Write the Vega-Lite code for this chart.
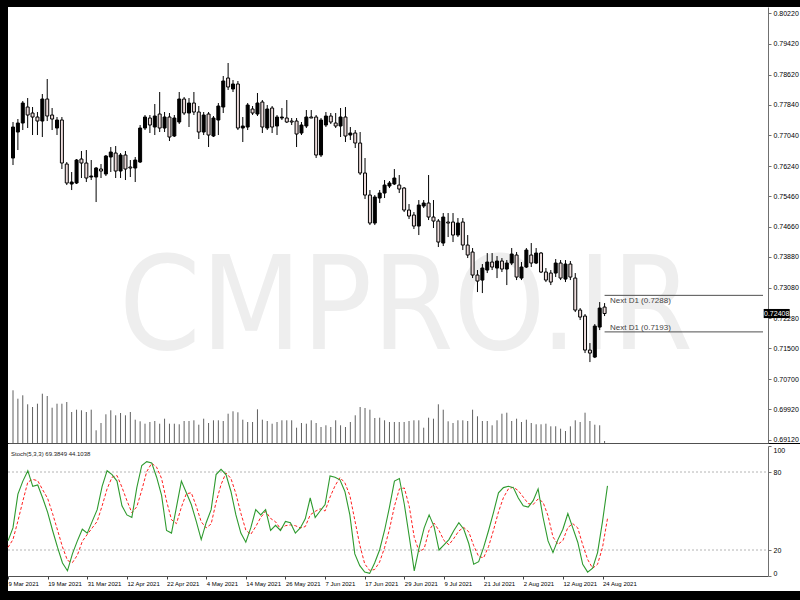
{
 "$schema": "https://vega.github.io/schema/vega-lite/v6.json",
 "background": "black",
 "padding": {"left": 5, "top": 7, "right": 3, "bottom": 10},
 "spacing": 0,
 "config": {"view": {"fill": "white", "stroke": null}, "font": "Liberation Sans", "axis": {"labelFont": "Liberation Sans", "labelOverlap": false, "grid": false}},
 "datasets": {
  "bars": [
{"i":0,"o":0.7645,"h":0.77386,"l":0.76268,"c":0.77256,"v":52700,"k":27,"d":22},
{"i":1,"o":0.77126,"h":0.77464,"l":0.76658,"c":0.7736,"v":44300,"k":37,"d":28},
{"i":2,"o":0.7736,"h":0.77932,"l":0.77178,"c":0.7788,"v":47700,"k":63,"d":42.3},
{"i":3,"o":0.77776,"h":0.7801,"l":0.7723,"c":0.77568,"v":38700,"k":73,"d":57.7},
{"i":4,"o":0.7762,"h":0.77776,"l":0.77048,"c":0.77516,"v":36000,"k":81,"d":72.3},
{"i":5,"o":0.77516,"h":0.77646,"l":0.77048,"c":0.77412,"v":39300,"k":69,"d":74.3},
{"i":6,"o":0.77412,"h":0.78114,"l":0.76996,"c":0.77984,"v":49300,"k":70,"d":73.3},
{"i":7,"o":0.77984,"h":0.78504,"l":0.77412,"c":0.77542,"v":47000,"k":60,"d":66.3},
{"i":8,"o":0.77568,"h":0.7775,"l":0.77178,"c":0.77464,"v":35300,"k":49,"d":59.7},
{"i":9,"o":0.7723,"h":0.77516,"l":0.77048,"c":0.77438,"v":39300,"k":35,"d":48},
{"i":10,"o":0.77438,"h":0.77516,"l":0.76164,"c":0.7632,"v":39300,"k":22,"d":35.3},
{"i":11,"o":0.76294,"h":0.76346,"l":0.75748,"c":0.758,"v":41000,"k":10,"d":22.3},
{"i":12,"o":0.75774,"h":0.76086,"l":0.75618,"c":0.75826,"v":31000,"k":4,"d":12},
{"i":13,"o":0.758,"h":0.76424,"l":0.75774,"c":0.76398,"v":33300,"k":17,"d":10.3},
{"i":14,"o":0.76424,"h":0.76632,"l":0.7593,"c":0.7632,"v":32700,"k":27,"d":16},
{"i":15,"o":0.7632,"h":0.76658,"l":0.75826,"c":0.7593,"v":31000,"k":36,"d":26.7},
{"i":16,"o":0.75956,"h":0.76398,"l":0.75878,"c":0.75982,"v":33300,"k":33,"d":32},
{"i":17,"o":0.75956,"h":0.76216,"l":0.75306,"c":0.7619,"v":12700,"k":42,"d":37},
{"i":18,"o":0.76164,"h":0.76294,"l":0.7593,"c":0.76112,"v":20000,"k":51,"d":42},
{"i":19,"o":0.76034,"h":0.76528,"l":0.75982,"c":0.76502,"v":28700,"k":69,"d":54},
{"i":20,"o":0.76476,"h":0.76736,"l":0.76086,"c":0.76606,"v":32700,"k":81,"d":67},
{"i":21,"o":0.7658,"h":0.76762,"l":0.7593,"c":0.76112,"v":27700,"k":78,"d":76},
{"i":22,"o":0.76112,"h":0.7658,"l":0.7593,"c":0.76528,"v":30000,"k":73,"d":77.3},
{"i":23,"o":0.76528,"h":0.76632,"l":0.75878,"c":0.76164,"v":27700,"k":54,"d":68.3},
{"i":24,"o":0.76216,"h":0.76398,"l":0.75956,"c":0.7619,"v":31000,"k":47,"d":58},
{"i":25,"o":0.7619,"h":0.76476,"l":0.75826,"c":0.76398,"v":23300,"k":45,"d":48.7},
{"i":26,"o":0.76346,"h":0.77308,"l":0.7632,"c":0.7723,"v":21700,"k":68,"d":53.3},
{"i":27,"o":0.7723,"h":0.77568,"l":0.77178,"c":0.77516,"v":19300,"k":85,"d":66},
{"i":28,"o":0.7749,"h":0.77568,"l":0.771,"c":0.77308,"v":21000,"k":88,"d":80.3},
{"i":29,"o":0.77256,"h":0.77854,"l":0.77048,"c":0.77542,"v":22000,"k":87,"d":86.7},
{"i":30,"o":0.77594,"h":0.78166,"l":0.77126,"c":0.7723,"v":19300,"k":76,"d":83.7},
{"i":31,"o":0.7723,"h":0.77646,"l":0.77126,"c":0.77516,"v":24300,"k":62,"d":75},
{"i":32,"o":0.77516,"h":0.7762,"l":0.76892,"c":0.76996,"v":19300,"k":35,"d":57.7},
{"i":33,"o":0.77022,"h":0.77568,"l":0.76996,"c":0.7749,"v":19300,"k":33,"d":43.3},
{"i":34,"o":0.77386,"h":0.78166,"l":0.77334,"c":0.77984,"v":18700,"k":53,"d":40.3},
{"i":35,"o":0.77984,"h":0.78036,"l":0.77568,"c":0.7762,"v":22000,"k":73,"d":53},
{"i":36,"o":0.7762,"h":0.7801,"l":0.77256,"c":0.7788,"v":22000,"k":64,"d":63.3},
{"i":37,"o":0.7788,"h":0.78166,"l":0.77568,"c":0.77646,"v":22700,"k":55,"d":64},
{"i":38,"o":0.77646,"h":0.77802,"l":0.76944,"c":0.77126,"v":18300,"k":42,"d":53.7},
{"i":39,"o":0.77126,"h":0.77646,"l":0.77048,"c":0.77568,"v":24300,"k":28,"d":41.7},
{"i":40,"o":0.77594,"h":0.77646,"l":0.76736,"c":0.77048,"v":20000,"k":41,"d":37},
{"i":41,"o":0.77022,"h":0.77542,"l":0.76996,"c":0.7749,"v":22700,"k":51,"d":40},
{"i":42,"o":0.77438,"h":0.7788,"l":0.77048,"c":0.77802,"v":22700,"k":78,"d":56.7},
{"i":43,"o":0.77776,"h":0.78582,"l":0.7762,"c":0.78452,"v":22000,"k":82,"d":70.3},
{"i":44,"o":0.7853,"h":0.7892,"l":0.78218,"c":0.78296,"v":29300,"k":78,"d":79.3},
{"i":45,"o":0.78244,"h":0.78478,"l":0.78166,"c":0.78374,"v":31700,"k":65,"d":75},
{"i":46,"o":0.78374,"h":0.78452,"l":0.77178,"c":0.7723,"v":30700,"k":47,"d":63.3},
{"i":47,"o":0.7723,"h":0.77516,"l":0.76866,"c":0.77282,"v":23300,"k":33,"d":48.3},
{"i":48,"o":0.77256,"h":0.7788,"l":0.77178,"c":0.77828,"v":21000,"k":26,"d":35.3},
{"i":49,"o":0.77724,"h":0.77802,"l":0.77568,"c":0.7762,"v":21000,"k":37,"d":32},
{"i":50,"o":0.77594,"h":0.7814,"l":0.77542,"c":0.7788,"v":33700,"k":51,"d":38},
{"i":51,"o":0.77906,"h":0.77958,"l":0.771,"c":0.77256,"v":23300,"k":47,"d":45},
{"i":52,"o":0.7723,"h":0.77828,"l":0.77178,"c":0.77724,"v":22000,"k":51,"d":49.7},
{"i":53,"o":0.7775,"h":0.77802,"l":0.771,"c":0.77256,"v":19300,"k":35,"d":44.3},
{"i":54,"o":0.77282,"h":0.77568,"l":0.77048,"c":0.77516,"v":21000,"k":39,"d":41.7},
{"i":55,"o":0.7749,"h":0.7775,"l":0.77438,"c":0.77516,"v":22700,"k":35,"d":36.3},
{"i":56,"o":0.7749,"h":0.77958,"l":0.7736,"c":0.77386,"v":22700,"k":42,"d":38.7},
{"i":57,"o":0.77412,"h":0.7749,"l":0.77308,"c":0.77386,"v":22700,"k":41,"d":39.3},
{"i":58,"o":0.77412,"h":0.7749,"l":0.76736,"c":0.77074,"v":15300,"k":33,"d":38.7},
{"i":59,"o":0.771,"h":0.77386,"l":0.77048,"c":0.77308,"v":20000,"k":37,"d":37},
{"i":60,"o":0.77282,"h":0.77698,"l":0.7723,"c":0.77516,"v":19300,"k":44,"d":38},
{"i":61,"o":0.77516,"h":0.77698,"l":0.7749,"c":0.7749,"v":22700,"k":60,"d":47},
{"i":62,"o":0.77516,"h":0.77568,"l":0.7645,"c":0.76528,"v":20000,"k":45,"d":49.7},
{"i":63,"o":0.76528,"h":0.7749,"l":0.76476,"c":0.77438,"v":16000,"k":50,"d":51.7},
{"i":64,"o":0.77308,"h":0.77646,"l":0.77256,"c":0.77542,"v":17700,"k":55,"d":50},
{"i":65,"o":0.77542,"h":0.7762,"l":0.77334,"c":0.77386,"v":16000,"k":77,"d":60.7},
{"i":66,"o":0.7736,"h":0.7762,"l":0.7723,"c":0.77282,"v":22700,"k":76,"d":69.3},
{"i":67,"o":0.77282,"h":0.7775,"l":0.76996,"c":0.77516,"v":17700,"k":74,"d":75.7},
{"i":68,"o":0.77516,"h":0.77776,"l":0.76866,"c":0.77022,"v":16000,"k":65,"d":71.7},
{"i":69,"o":0.77048,"h":0.77256,"l":0.76918,"c":0.771,"v":21000,"k":47,"d":62},
{"i":70,"o":0.771,"h":0.77178,"l":0.7671,"c":0.7684,"v":27700,"k":17,"d":43},
{"i":71,"o":0.7684,"h":0.77126,"l":0.76008,"c":0.7606,"v":36000,"k":8,"d":24},
{"i":72,"o":0.7606,"h":0.7645,"l":0.75384,"c":0.75488,"v":35000,"k":3,"d":9.3},
{"i":73,"o":0.75488,"h":0.75618,"l":0.74708,"c":0.7476,"v":33300,"k":2,"d":4.3},
{"i":74,"o":0.7476,"h":0.75488,"l":0.74708,"c":0.75436,"v":25000,"k":10,"d":5},
{"i":75,"o":0.7541,"h":0.75618,"l":0.7528,"c":0.7554,"v":25300,"k":20,"d":10.7},
{"i":76,"o":0.7554,"h":0.75878,"l":0.7541,"c":0.75748,"v":22700,"k":35,"d":21.7},
{"i":77,"o":0.75722,"h":0.75852,"l":0.7567,"c":0.758,"v":21000,"k":53,"d":36},
{"i":78,"o":0.75774,"h":0.76164,"l":0.75748,"c":0.7593,"v":21000,"k":73,"d":53.7},
{"i":79,"o":0.75748,"h":0.76008,"l":0.7554,"c":0.75644,"v":21000,"k":75,"d":67},
{"i":80,"o":0.7567,"h":0.75696,"l":0.75046,"c":0.75098,"v":21000,"k":55,"d":67.7},
{"i":81,"o":0.75098,"h":0.75254,"l":0.74864,"c":0.74942,"v":22000,"k":30,"d":53.3},
{"i":82,"o":0.74968,"h":0.75046,"l":0.74604,"c":0.74682,"v":22700,"k":4,"d":29.7},
{"i":83,"o":0.74682,"h":0.75358,"l":0.74448,"c":0.75228,"v":22700,"k":22,"d":18.7},
{"i":84,"o":0.75202,"h":0.75358,"l":0.7515,"c":0.7528,"v":15300,"k":37,"d":21},
{"i":85,"o":0.7528,"h":0.76008,"l":0.74838,"c":0.74916,"v":25300,"k":47,"d":35.3},
{"i":86,"o":0.74916,"h":0.75358,"l":0.7463,"c":0.74812,"v":24300,"k":38,"d":40.7},
{"i":87,"o":0.74812,"h":0.74864,"l":0.74136,"c":0.74266,"v":38700,"k":20,"d":35},
{"i":88,"o":0.7424,"h":0.7502,"l":0.74162,"c":0.74916,"v":33300,"k":24,"d":27.3},
{"i":89,"o":0.74786,"h":0.7502,"l":0.74396,"c":0.7476,"v":21700,"k":28,"d":24},
{"i":90,"o":0.74786,"h":0.7502,"l":0.74266,"c":0.74448,"v":20000,"k":35,"d":29},
{"i":91,"o":0.74448,"h":0.7489,"l":0.74396,"c":0.7476,"v":22700,"k":41,"d":34.7},
{"i":92,"o":0.74786,"h":0.7489,"l":0.74058,"c":0.74188,"v":22700,"k":36,"d":37.3},
{"i":93,"o":0.74188,"h":0.74448,"l":0.7385,"c":0.73928,"v":22000,"k":25,"d":34},
{"i":94,"o":0.74006,"h":0.7411,"l":0.7333,"c":0.73408,"v":33300,"k":9,"d":23.3},
{"i":95,"o":0.73408,"h":0.73538,"l":0.72966,"c":0.73252,"v":26700,"k":11,"d":15},
{"i":96,"o":0.73278,"h":0.73694,"l":0.7294,"c":0.7359,"v":22000,"k":22,"d":14},
{"i":97,"o":0.73538,"h":0.7398,"l":0.7346,"c":0.73746,"v":22000,"k":35,"d":22.7},
{"i":98,"o":0.73746,"h":0.7398,"l":0.73538,"c":0.73616,"v":17700,"k":49,"d":35.3},
{"i":99,"o":0.7359,"h":0.73902,"l":0.7333,"c":0.73772,"v":22700,"k":64,"d":49.3},
{"i":100,"o":0.73772,"h":0.7385,"l":0.73486,"c":0.73564,"v":29300,"k":68,"d":60.3},
{"i":101,"o":0.73564,"h":0.73798,"l":0.73148,"c":0.7372,"v":30300,"k":69,"d":67},
{"i":102,"o":0.7372,"h":0.7411,"l":0.73668,"c":0.73954,"v":22000,"k":68,"d":68.3},
{"i":103,"o":0.73928,"h":0.74006,"l":0.73278,"c":0.73356,"v":24300,"k":60,"d":65.7},
{"i":104,"o":0.7333,"h":0.73746,"l":0.73278,"c":0.73616,"v":21000,"k":54,"d":60.7},
{"i":105,"o":0.73616,"h":0.7411,"l":0.7359,"c":0.74058,"v":23300,"k":53,"d":55.7},
{"i":106,"o":0.73928,"h":0.7424,"l":0.73616,"c":0.7372,"v":20000,"k":58,"d":55},
{"i":107,"o":0.7372,"h":0.7411,"l":0.73694,"c":0.7398,"v":18700,"k":67,"d":59.3},
{"i":108,"o":0.7398,"h":0.74006,"l":0.7346,"c":0.73486,"v":18700,"k":45,"d":56.7},
{"i":109,"o":0.73486,"h":0.7359,"l":0.73226,"c":0.73278,"v":19300,"k":27,"d":46.3},
{"i":110,"o":0.7346,"h":0.73538,"l":0.73148,"c":0.73226,"v":16700,"k":18,"d":30},
{"i":111,"o":0.7346,"h":0.73824,"l":0.73356,"c":0.7372,"v":16700,"k":28,"d":24.3},
{"i":112,"o":0.7372,"h":0.73798,"l":0.73278,"c":0.7333,"v":14300,"k":36,"d":27.3},
{"i":113,"o":0.73304,"h":0.73798,"l":0.73226,"c":0.73694,"v":12000,"k":48,"d":37.3},
{"i":114,"o":0.73694,"h":0.73772,"l":0.73278,"c":0.73356,"v":16700,"k":37,"d":40.3},
{"i":115,"o":0.7333,"h":0.7346,"l":0.72446,"c":0.72498,"v":22700,"k":26,"d":37},
{"i":116,"o":0.72498,"h":0.7255,"l":0.72238,"c":0.72316,"v":21000,"k":9,"d":24},
{"i":117,"o":0.72342,"h":0.72394,"l":0.7138,"c":0.71458,"v":30300,"k":3,"d":12.7},
{"i":118,"o":0.71458,"h":0.7164,"l":0.71146,"c":0.7138,"v":22000,"k":6,"d":6},
{"i":119,"o":0.71276,"h":0.72134,"l":0.7125,"c":0.72082,"v":18300,"k":18,"d":9},
{"i":120,"o":0.72056,"h":0.72706,"l":0.71978,"c":0.7255,"v":17700,"k":42,"d":22},
{"i":121,"o":0.72576,"h":0.7268,"l":0.72342,"c":0.72408,"v":2000,"k":69.3849,"d":44.1038}
  ],
  "next": [{"p": 0.7288, "lbl": "Next D1 (0.7288)"}, {"p": 0.7193, "lbl": "Next D1 (0.7193)"}],
  "last": [{"p": 0.72408, "lbl": "0.72408"}],
  "levels": [{"lv": 80}, {"lv": 20}],
  "wm": [{"t": "CMPRO.IR"}],
  "stochlbl": [{"t": "Stoch(5,3,3) 69.3849 44.1038"}]
 },
 "vconcat": [
  {
   "width": 792,
   "height": 436,
   "layer": [
    {
     "data": {"name": "bars"},
     "mark": {"type": "rule", "color": "#606060", "strokeWidth": 1},
     "encoding": {
      "x": {"field": "i", "type": "quantitative", "scale": {"domain": [0, 153.4], "range": [0, 760], "nice": false, "zero": false},
            "axis": {"orient": "bottom", "labels": false, "ticks": false, "domainColor": "#505050", "title": null}},
      "y": {"field": "v", "type": "quantitative", "scale": {"domain": [0, 436000], "nice": false}, "axis": null},
      "y2": {"datum": 0}
     }
    },
    {
     "layer": [
      {
       "data": {"name": "wm"},
       "mark": {"type": "text", "font": "DejaVu Sans Condensed, Liberation Sans, sans-serif", "fontSize": 130, "color": "#eeeeee", "align": "center", "baseline": "alphabetic"},
       "encoding": {
        "x": {"datum": 80.4, "type": "quantitative", "scale": {"domain": [0, 153.4], "range": [0, 760], "nice": false, "zero": false},
              "axis": {"orient": "bottom", "labels": false, "ticks": false, "domainColor": "#505050", "title": null}},
        "y": {"datum": 0.71484, "type": "quantitative", "scale": {"domain": [0.69042, 0.80376], "nice": false, "zero": false},
              "axis": {"orient": "right", "offset": -32, "title": null,
                       "values": [0.8022, 0.7942, 0.7862, 0.7784, 0.7704, 0.7624, 0.7546, 0.7466, 0.7388, 0.7308, 0.7228, 0.715, 0.707, 0.6992, 0.6912],
                       "format": ".5f", "labelFontSize": 7, "labelColor": "#000000", "labelPadding": 2, "labelOverlap": false, "labelFlush": false,
                       "tickSize": 3, "tickColor": "#707070", "domainColor": "#707070"}},
        "text": {"field": "t"}
       }
      },
      {
       "data": {"name": "bars"},
       "mark": {"type": "rule", "color": "black", "strokeWidth": 1},
       "encoding": {
        "x": {"field": "i", "type": "quantitative", "scale": {"domain": [0, 153.4], "range": [0, 760], "nice": false, "zero": false},
              "axis": {"orient": "bottom", "labels": false, "ticks": false, "domainColor": "#505050", "title": null}},
        "y": {"field": "l", "type": "quantitative", "scale": {"domain": [0.69042, 0.80376], "nice": false, "zero": false},
              "axis": {"orient": "right", "offset": -32, "title": null,
                       "values": [0.8022, 0.7942, 0.7862, 0.7784, 0.7704, 0.7624, 0.7546, 0.7466, 0.7388, 0.7308, 0.7228, 0.715, 0.707, 0.6992, 0.6912],
                       "format": ".5f", "labelFontSize": 7, "labelColor": "#000000", "labelPadding": 2, "labelOverlap": false, "labelFlush": false,
                       "tickSize": 3, "tickColor": "#707070", "domainColor": "#707070"}},
        "y2": {"field": "h"}
       }
      },
      {
       "data": {"name": "bars"},
       "mark": {"type": "bar", "width": 3, "stroke": "black", "strokeWidth": 1},
       "encoding": {
        "x": {"field": "i", "type": "quantitative", "scale": {"domain": [0, 153.4], "range": [0, 760], "nice": false, "zero": false},
              "axis": {"orient": "bottom", "labels": false, "ticks": false, "domainColor": "#505050", "title": null}},
        "y": {"field": "o", "type": "quantitative", "scale": {"domain": [0.69042, 0.80376], "nice": false, "zero": false},
              "axis": {"orient": "right", "offset": -32, "title": null,
                       "values": [0.8022, 0.7942, 0.7862, 0.7784, 0.7704, 0.7624, 0.7546, 0.7466, 0.7388, 0.7308, 0.7228, 0.715, 0.707, 0.6992, 0.6912],
                       "format": ".5f", "labelFontSize": 7, "labelColor": "#000000", "labelPadding": 2, "labelOverlap": false, "labelFlush": false,
                       "tickSize": 3, "tickColor": "#707070", "domainColor": "#707070"}},
        "y2": {"field": "c"},
        "fill": {"condition": {"test": "datum.c > datum.o", "value": "black"}, "value": "#eddcdc"}
       }
      },
      {
       "data": {"name": "next"},
       "mark": {"type": "rule", "color": "#505050", "strokeWidth": 1},
       "encoding": {
        "x": {"datum": 121, "type": "quantitative", "scale": {"domain": [0, 153.4], "range": [0, 760], "nice": false, "zero": false},
              "axis": {"orient": "bottom", "labels": false, "ticks": false, "domainColor": "#505050", "title": null}},
        "x2": {"datum": 153.4},
        "y": {"field": "p", "type": "quantitative", "scale": {"domain": [0.69042, 0.80376], "nice": false, "zero": false},
              "axis": {"orient": "right", "offset": -32, "title": null,
                       "values": [0.8022, 0.7942, 0.7862, 0.7784, 0.7704, 0.7624, 0.7546, 0.7466, 0.7388, 0.7308, 0.7228, 0.715, 0.707, 0.6992, 0.6912],
                       "format": ".5f", "labelFontSize": 7, "labelColor": "#000000", "labelPadding": 2, "labelOverlap": false, "labelFlush": false,
                       "tickSize": 3, "tickColor": "#707070", "domainColor": "#707070"}}
       }
      },
      {
       "data": {"name": "next"},
       "transform": [{"filter": "datum.p > 0.725"}],
       "mark": {"type": "text", "align": "left", "baseline": "top", "dy": 2, "fontSize": 8, "color": "#444444"},
       "encoding": {
        "x": {"datum": 122.1, "type": "quantitative", "scale": {"domain": [0, 153.4], "range": [0, 760], "nice": false, "zero": false},
              "axis": {"orient": "bottom", "labels": false, "ticks": false, "domainColor": "#505050", "title": null}},
        "y": {"field": "p", "type": "quantitative", "scale": {"domain": [0.69042, 0.80376], "nice": false, "zero": false},
              "axis": {"orient": "right", "offset": -32, "title": null,
                       "values": [0.8022, 0.7942, 0.7862, 0.7784, 0.7704, 0.7624, 0.7546, 0.7466, 0.7388, 0.7308, 0.7228, 0.715, 0.707, 0.6992, 0.6912],
                       "format": ".5f", "labelFontSize": 7, "labelColor": "#000000", "labelPadding": 2, "labelOverlap": false, "labelFlush": false,
                       "tickSize": 3, "tickColor": "#707070", "domainColor": "#707070"}},
        "text": {"field": "lbl"}
       }
      },
      {
       "data": {"name": "next"},
       "transform": [{"filter": "datum.p < 0.725"}],
       "mark": {"type": "text", "align": "left", "baseline": "alphabetic", "dy": -2, "fontSize": 8, "color": "#444444"},
       "encoding": {
        "x": {"datum": 122.1, "type": "quantitative", "scale": {"domain": [0, 153.4], "range": [0, 760], "nice": false, "zero": false},
              "axis": {"orient": "bottom", "labels": false, "ticks": false, "domainColor": "#505050", "title": null}},
        "y": {"field": "p", "type": "quantitative", "scale": {"domain": [0.69042, 0.80376], "nice": false, "zero": false},
              "axis": {"orient": "right", "offset": -32, "title": null,
                       "values": [0.8022, 0.7942, 0.7862, 0.7784, 0.7704, 0.7624, 0.7546, 0.7466, 0.7388, 0.7308, 0.7228, 0.715, 0.707, 0.6992, 0.6912],
                       "format": ".5f", "labelFontSize": 7, "labelColor": "#000000", "labelPadding": 2, "labelOverlap": false, "labelFlush": false,
                       "tickSize": 3, "tickColor": "#707070", "domainColor": "#707070"}},
        "text": {"field": "lbl"}
       }
      },
      {
       "data": {"name": "last"},
       "mark": {"type": "point", "shape": "M-1,-0.35H1V0.35H-1Z", "size": 676, "filled": true, "color": "black", "opacity": 1},
       "encoding": {
        "x": {"datum": 156.2, "type": "quantitative", "scale": {"domain": [0, 153.4], "range": [0, 760], "nice": false, "zero": false},
              "axis": {"orient": "bottom", "labels": false, "ticks": false, "domainColor": "#505050", "title": null}},
        "y": {"field": "p", "type": "quantitative", "scale": {"domain": [0.69042, 0.80376], "nice": false, "zero": false},
              "axis": {"orient": "right", "offset": -32, "title": null,
                       "values": [0.8022, 0.7942, 0.7862, 0.7784, 0.7704, 0.7624, 0.7546, 0.7466, 0.7388, 0.7308, 0.7228, 0.715, 0.707, 0.6992, 0.6912],
                       "format": ".5f", "labelFontSize": 7, "labelColor": "#000000", "labelPadding": 2, "labelOverlap": false, "labelFlush": false,
                       "tickSize": 3, "tickColor": "#707070", "domainColor": "#707070"}}
       }
      },
      {
       "data": {"name": "last"},
       "mark": {"type": "text", "color": "white", "fontSize": 7, "align": "center", "baseline": "middle"},
       "encoding": {
        "x": {"datum": 156.2, "type": "quantitative", "scale": {"domain": [0, 153.4], "range": [0, 760], "nice": false, "zero": false},
              "axis": {"orient": "bottom", "labels": false, "ticks": false, "domainColor": "#505050", "title": null}},
        "y": {"field": "p", "type": "quantitative", "scale": {"domain": [0.69042, 0.80376], "nice": false, "zero": false},
              "axis": {"orient": "right", "offset": -32, "title": null,
                       "values": [0.8022, 0.7942, 0.7862, 0.7784, 0.7704, 0.7624, 0.7546, 0.7466, 0.7388, 0.7308, 0.7228, 0.715, 0.707, 0.6992, 0.6912],
                       "format": ".5f", "labelFontSize": 7, "labelColor": "#000000", "labelPadding": 2, "labelOverlap": false, "labelFlush": false,
                       "tickSize": 3, "tickColor": "#707070", "domainColor": "#707070"}},
        "text": {"field": "lbl"}
       }
      }
     ]
    }
   ],
   "resolve": {"scale": {"y": "independent"}}
  },
  {
   "width": 792,
   "height": 147,
   "layer": [
    {
     "data": {"name": "levels"},
     "mark": {"type": "rule", "color": "#b4b4b4", "strokeDash": [2, 2], "strokeWidth": 1},
     "encoding": {
      "x": {"datum": 0, "type": "quantitative", "scale": {"domain": [0, 153.4], "range": [0, 760], "nice": false, "zero": false},
            "axis": {"orient": "bottom", "offset": -15, "title": null,
                   "values": [0, 8, 16, 24, 32, 40, 48, 56, 64, 72, 80, 88, 96, 104, 112, 120],
                   "labelExpr": "['9 Mar 2021','19 Mar 2021','31 Mar 2021','12 Apr 2021','22 Apr 2021','4 May 2021','14 May 2021','26 May 2021','7 Jun 2021','17 Jun 2021','29 Jun 2021','9 Jul 2021','21 Jul 2021','2 Aug 2021','12 Aug 2021','24 Aug 2021'][round(datum.value / 8)]",
                   "labelAlign": "left", "labelBaseline": "top", "labelPadding": 1, "labelFontSize": 6, "labelColor": "#000000",
                   "labelFlush": false, "labelOverlap": false, "tickSize": 3, "tickColor": "#404040", "domainColor": "#505050"}},
      "x2": {"datum": 153.4},
      "y": {"field": "lv", "type": "quantitative", "scale": {"domain": [0, 100], "range": [132, 2], "nice": false, "zero": false},
            "axis": {"orient": "right", "offset": -32, "title": null, "values": [0, 20, 80, 100],
                     "labelFontSize": 7, "labelColor": "#000000", "labelPadding": 2, "labelFlush": true, "labelOverlap": false,
                     "tickSize": 3, "tickColor": "#707070", "domainColor": "#707070"}}
     }
    },
    {
     "data": {"name": "bars"},
     "mark": {"type": "line", "color": "#ff2020", "strokeDash": [3, 2], "strokeWidth": 1},
     "encoding": {
      "x": {"field": "i", "type": "quantitative", "scale": {"domain": [0, 153.4], "range": [0, 760], "nice": false, "zero": false},
            "axis": {"orient": "bottom", "offset": -15, "title": null,
                   "values": [0, 8, 16, 24, 32, 40, 48, 56, 64, 72, 80, 88, 96, 104, 112, 120],
                   "labelExpr": "['9 Mar 2021','19 Mar 2021','31 Mar 2021','12 Apr 2021','22 Apr 2021','4 May 2021','14 May 2021','26 May 2021','7 Jun 2021','17 Jun 2021','29 Jun 2021','9 Jul 2021','21 Jul 2021','2 Aug 2021','12 Aug 2021','24 Aug 2021'][round(datum.value / 8)]",
                   "labelAlign": "left", "labelBaseline": "top", "labelPadding": 1, "labelFontSize": 6, "labelColor": "#000000",
                   "labelFlush": false, "labelOverlap": false, "tickSize": 3, "tickColor": "#404040", "domainColor": "#505050"}},
      "y": {"field": "d", "type": "quantitative", "scale": {"domain": [0, 100], "range": [132, 2], "nice": false, "zero": false},
            "axis": {"orient": "right", "offset": -32, "title": null, "values": [0, 20, 80, 100],
                     "labelFontSize": 7, "labelColor": "#000000", "labelPadding": 2, "labelFlush": true, "labelOverlap": false,
                     "tickSize": 3, "tickColor": "#707070", "domainColor": "#707070"}}
     }
    },
    {
     "data": {"name": "bars"},
     "mark": {"type": "line", "color": "#2e9a2e", "strokeWidth": 1.1},
     "encoding": {
      "x": {"field": "i", "type": "quantitative", "scale": {"domain": [0, 153.4], "range": [0, 760], "nice": false, "zero": false},
            "axis": {"orient": "bottom", "offset": -15, "title": null,
                   "values": [0, 8, 16, 24, 32, 40, 48, 56, 64, 72, 80, 88, 96, 104, 112, 120],
                   "labelExpr": "['9 Mar 2021','19 Mar 2021','31 Mar 2021','12 Apr 2021','22 Apr 2021','4 May 2021','14 May 2021','26 May 2021','7 Jun 2021','17 Jun 2021','29 Jun 2021','9 Jul 2021','21 Jul 2021','2 Aug 2021','12 Aug 2021','24 Aug 2021'][round(datum.value / 8)]",
                   "labelAlign": "left", "labelBaseline": "top", "labelPadding": 1, "labelFontSize": 6, "labelColor": "#000000",
                   "labelFlush": false, "labelOverlap": false, "tickSize": 3, "tickColor": "#404040", "domainColor": "#505050"}},
      "y": {"field": "k", "type": "quantitative", "scale": {"domain": [0, 100], "range": [132, 2], "nice": false, "zero": false},
            "axis": {"orient": "right", "offset": -32, "title": null, "values": [0, 20, 80, 100],
                     "labelFontSize": 7, "labelColor": "#000000", "labelPadding": 2, "labelFlush": true, "labelOverlap": false,
                     "tickSize": 3, "tickColor": "#707070", "domainColor": "#707070"}}
     }
    },
    {
     "data": {"name": "stochlbl"},
     "mark": {"type": "text", "align": "left", "baseline": "middle", "fontSize": 6, "color": "#222222"},
     "encoding": {
      "x": {"datum": 0.6, "type": "quantitative", "scale": {"domain": [0, 153.4], "range": [0, 760], "nice": false, "zero": false},
            "axis": {"orient": "bottom", "offset": -15, "title": null,
                   "values": [0, 8, 16, 24, 32, 40, 48, 56, 64, 72, 80, 88, 96, 104, 112, 120],
                   "labelExpr": "['9 Mar 2021','19 Mar 2021','31 Mar 2021','12 Apr 2021','22 Apr 2021','4 May 2021','14 May 2021','26 May 2021','7 Jun 2021','17 Jun 2021','29 Jun 2021','9 Jul 2021','21 Jul 2021','2 Aug 2021','12 Aug 2021','24 Aug 2021'][round(datum.value / 8)]",
                   "labelAlign": "left", "labelBaseline": "top", "labelPadding": 1, "labelFontSize": 6, "labelColor": "#000000",
                   "labelFlush": false, "labelOverlap": false, "tickSize": 3, "tickColor": "#404040", "domainColor": "#505050"}},
      "y": {"datum": 94, "type": "quantitative", "scale": {"domain": [0, 100], "range": [132, 2], "nice": false, "zero": false},
            "axis": {"orient": "right", "offset": -32, "title": null, "values": [0, 20, 80, 100],
                     "labelFontSize": 7, "labelColor": "#000000", "labelPadding": 2, "labelFlush": true, "labelOverlap": false,
                     "tickSize": 3, "tickColor": "#707070", "domainColor": "#707070"}},
      "text": {"field": "t"}
     }
    }
   ]
  }
 ],
 "resolve": {"scale": {"x": "independent", "y": "independent"}}
}
